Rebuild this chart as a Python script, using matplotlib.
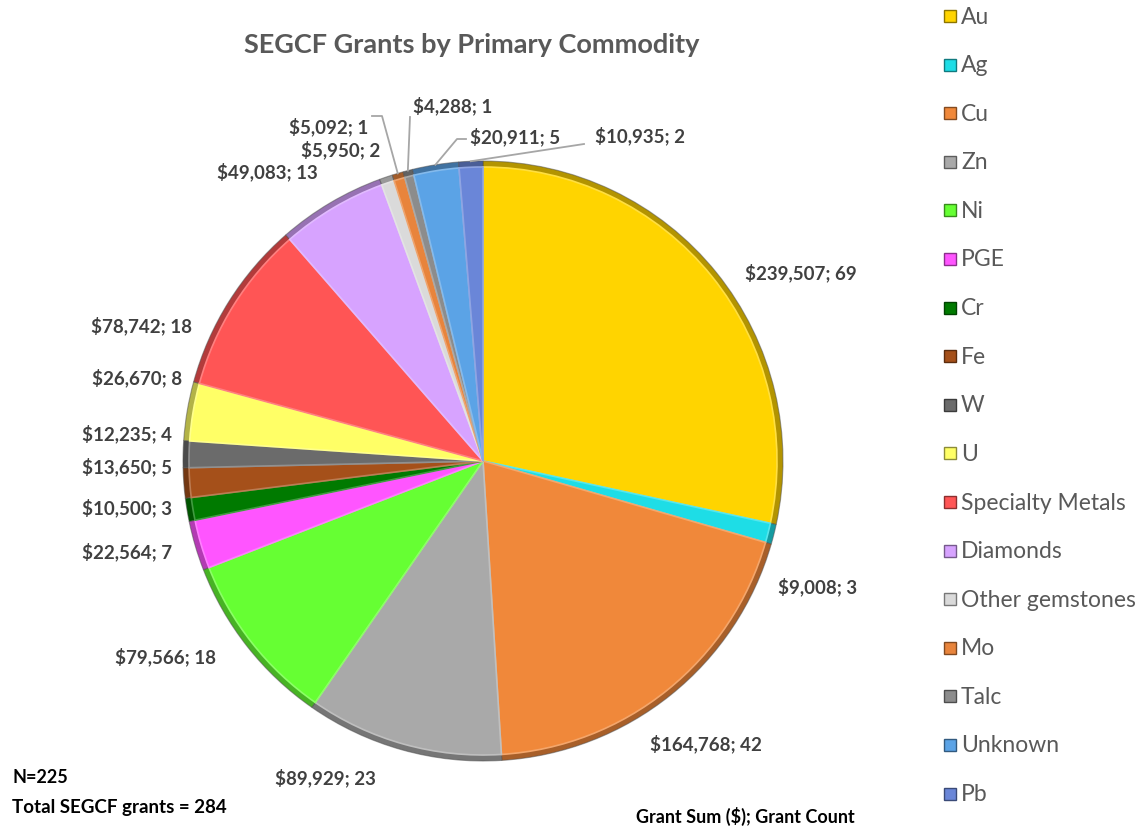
import matplotlib
matplotlib.use('Agg')
import matplotlib.pyplot as plt
import matplotlib.colors as mcolors
import numpy as np

# data
commodities = ['Au', 'Ag', 'Cu', 'Zn', 'Ni', 'PGE', 'Cr', 'Fe', 'W', 'U',
               'Specialty Metals', 'Diamonds', 'Other gemstones', 'Mo', 'Talc',
               'Unknown', 'Pb']
grant_sum = [239507, 9008, 164768, 89929, 79566, 22564, 10500, 13650, 12235,
             26670, 78742, 49083, 5950, 5092, 4288, 20911, 10935]
grant_count = [69, 3, 42, 23, 18, 7, 3, 5, 4, 8, 18, 13, 2, 1, 1, 5, 2]

colors = ['#FFD400', '#1EDDE6', '#F0883A', '#A9A9A9', '#66FF33', '#FF55FF',
          '#007A00', '#A5501A', '#6B6B6B', '#FFFF66', '#FF5555', '#D7A3FF',
          '#DADADA', '#E8843C', '#8C8C8C', '#5BA3E6', '#6A86D8']

# label anchor points in figure pixels (x, y from top), alignment
label_pos = [(745, 273, 'left'), (778, 587, 'left'), (650, 744, 'left'),
             (275, 778, 'left'), (115, 657, 'left'), (172, 552, 'right'),
             (172, 508, 'right'), (172, 467, 'right'), (172, 434, 'right'),
             (182, 378, 'right'), (192, 326, 'right'), (318, 172, 'right'),
             (380, 150, 'right'), (368, 127, 'right'), (413, 106, 'left'),
             (470, 137, 'left'), (595, 136, 'left')]
# leader start (x, y from top) and optional elbow x; None = no leader
leader = [None] * 13 + [((372, 117), 382), ((410, 118), None),
                        ((466, 140), 457), ((584, 145), None)]

W, H = 1145, 829
fig = plt.figure(figsize=(W / 100, H / 100), dpi=100)
ax = fig.add_axes([0, 0, 1, 1])
ax.set_xlim(0, W)
ax.set_ylim(0, H)
ax.set_aspect('equal')
ax.axis('off')

cx, cy, R = 483, H - 462, 300
TXT = '#404040'
FONT = 'Lato'


def shade(c, f):
    r, g, b = mcolors.to_rgb(c)
    if f < 1:
        return (r * f, g * f, b * f)
    return (r + (1 - r) * (f - 1), g + (1 - g) * (f - 1), b + (1 - b) * (f - 1))


# darker rim, then the face on top, for a bevelled look
wedges, _ = ax.pie(grant_sum, colors=[shade(c, 0.7) for c in colors],
                   startangle=90, counterclock=False, center=(cx, cy), radius=R,
                   wedgeprops=dict(edgecolor=(0.3, 0.3, 0.3, 0.5), linewidth=0.8))
faces, _ = ax.pie(grant_sum, colors=colors, startangle=90, counterclock=False,
                  center=(cx, cy), radius=R - 6,
                  wedgeprops=dict(linewidth=1.2))
for w, c in zip(faces, colors):
    w.set_edgecolor(shade(c, 1.25))
ax.set_xlim(0, W)
ax.set_ylim(0, H)

for i, w in enumerate(wedges):
    txt = '${:,}; {}'.format(grant_sum[i], grant_count[i])
    x, y, ha = label_pos[i]
    ax.text(x, H - y, txt, ha=ha, va='center', fontsize=13.5,
            fontweight='bold', color=TXT, family=FONT)
    if leader[i] is not None:
        (sx, sy), kx = leader[i]
        mid = np.deg2rad((w.theta1 + w.theta2) / 2)
        ex, ey = cx + R * np.cos(mid), cy + R * np.sin(mid)
        xs, ys = [sx], [H - sy]
        if kx is not None:
            xs.append(kx)
            ys.append(H - sy)
        xs.append(ex)
        ys.append(ey)
        ax.plot(xs, ys, color='#A6A6A6', lw=1.3)

ax.text(472, H - 45, 'SEGCF Grants by Primary Commodity', ha='center',
        va='center', fontsize=19.5, fontweight='bold', color='#595959',
        family=FONT)

ax.text(12, H - 778, 'N=225', ha='left', va='center', fontsize=13,
        fontweight='bold', color='black', family=FONT)
ax.text(12, H - 808, 'Total SEGCF grants = 284', ha='left', va='center',
        fontsize=13.5, fontweight='bold', color='black', family=FONT)
ax.text(636, H - 816, 'Grant Sum ($); Grant Count', ha='left', va='center',
        fontsize=13, fontweight='bold', color='black', family=FONT)

# legend, one row every ~48.6 px
y0, step = 17, 48.6
for i, name in enumerate(commodities):
    yy = H - (y0 + i * step)
    ax.add_patch(plt.Rectangle((944, yy - 6), 12, 12, facecolor=colors[i],
                               edgecolor=shade(colors[i], 0.55), lw=1))
    ax.text(961, yy, name, ha='left', va='center', fontsize=16.5,
            color='#595959', family=FONT)

fig.savefig('out.png', dpi=100)
